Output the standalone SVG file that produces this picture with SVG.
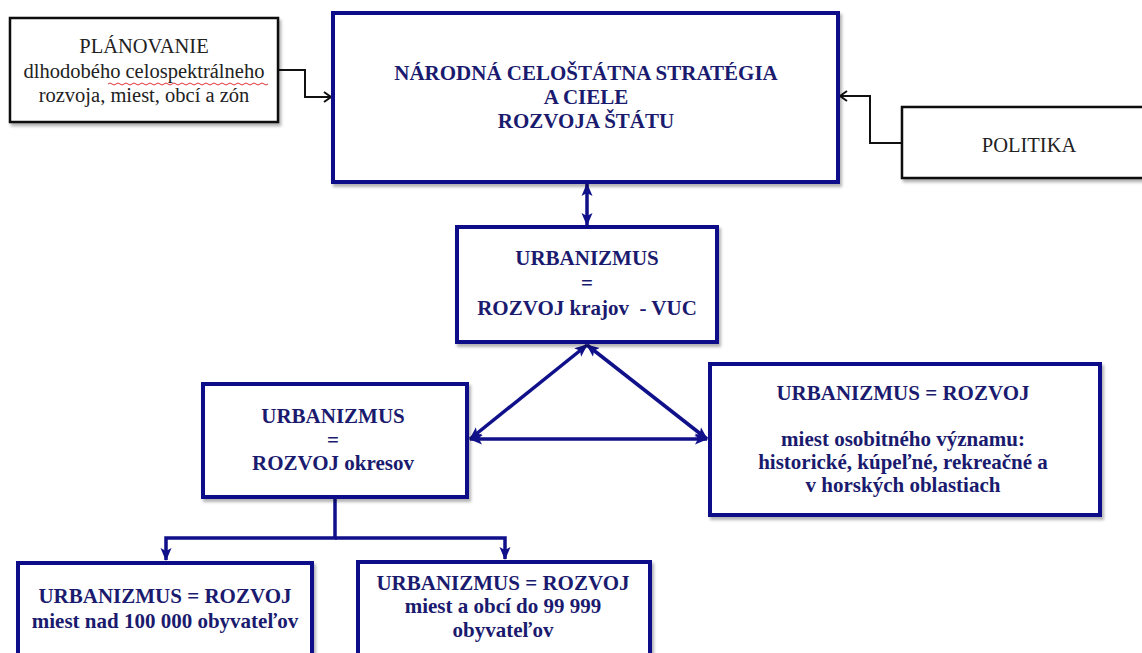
<svg xmlns="http://www.w3.org/2000/svg" width="1142" height="653" viewBox="0 0 1142 653">
<defs>
<filter id="sh" x="-5%" y="-5%" width="115%" height="120%">
<feDropShadow dx="2" dy="3" stdDeviation="1.5" flood-color="#000" flood-opacity="0.3"/>
</filter>
<marker id="ab" markerUnits="userSpaceOnUse" markerWidth="14" markerHeight="12" refX="12" refY="6" orient="auto-start-reverse">
<path d="M0,0.5 L13,6 L0,11.5 L3,6 z" fill="#10108a"/>
</marker>
<marker id="ak" markerUnits="userSpaceOnUse" markerWidth="12" markerHeight="12" refX="10" refY="6" orient="auto">
<path d="M3,1 L10,6 L3,11" fill="none" stroke="#111" stroke-width="2"/>
</marker>
</defs>
<style>
.bb{fill:#fff;stroke:#10108a;stroke-width:4}
.kb{fill:#fff;stroke:#111;stroke-width:2.5}
.bt{font-family:'Liberation Serif','Times New Roman','DejaVu Serif',serif;font-weight:bold;font-size:21px;fill:#1a1a6e;text-anchor:middle}
.kt{font-family:'Liberation Serif','Times New Roman','DejaVu Serif',serif;font-size:20.5px;fill:#222;text-anchor:middle}
.bl{fill:none;stroke:#10108a;stroke-width:3.5}
.kl{fill:none;stroke:#111;stroke-width:2}
</style>
<rect width="1142" height="653" fill="#fff"/>
<g id="connectors">
<path class="kl" d="M278,70 H305 V97 H331" marker-end="url(#ak)"/>
<path class="kl" d="M902,143 H870 V96 H840" marker-end="url(#ak)"/>
<path class="bl" d="M587,184 V225" marker-start="url(#ab)" marker-end="url(#ab)"/>
<path class="bl" d="M587,345 L470,439" marker-start="url(#ab)" marker-end="url(#ab)"/>
<path class="bl" d="M587,345 L707,439" marker-start="url(#ab)" marker-end="url(#ab)"/>
<path class="bl" d="M470,439 H707" marker-start="url(#ab)" marker-end="url(#ab)"/>
<path class="bl" d="M335,497 V538 H166 V560" marker-end="url(#ab)"/>
<path class="bl" d="M335,538 H505 V559" marker-end="url(#ab)"/>
</g>
<g id="planovanie">
<rect class="kb" x="10" y="18" width="268" height="104" filter="url(#sh)"/>
<text class="kt" x="144" y="53">PLÁNOVANIE</text>
<text class="kt" x="144" y="78">dlhodobého celospektrálneho</text>
<text class="kt" x="144" y="102">rozvoja, miest, obcí a zón</text>
<path d="M108,84 q2,-2 4,0 t4,0 t4,0 t4,0 t4,0 t4,0 t4,0 t4,0 t4,0 t4,0 t4,0 t4,0 t4,0 t4,0 t4,0 t4,0 t4,0 t4,0 t4,0 t4,0 t4,0 t4,0 t4,0 t4,0 t4,0 t4,0 t4,0 t4,0 t4,0 t4,0 t4,0 t4,0 t4,0 t4,0 t4,0 t4,0 t4,0 t4,0 t4,0 t4,0" fill="none" stroke="#d33" stroke-width="1"/>
</g>
<g id="strategia">
<rect class="bb" x="333" y="13" width="505" height="169" stroke-width="3.5" filter="url(#sh)"/>
<text class="bt" x="586" y="80">NÁRODNÁ CELOŠTÁTNA STRATÉGIA</text>
<text class="bt" x="586" y="104">A CIELE</text>
<text class="bt" x="586" y="128">ROZVOJA ŠTÁTU</text>
</g>
<g id="politika">
<rect class="kb" x="902" y="107" width="260" height="71" filter="url(#sh)"/>
<text class="kt" x="1029" y="152">POLITIKA</text>
</g>
<g id="kraje">
<rect class="bb" x="457" y="227" width="260" height="115" filter="url(#sh)"/>
<text class="bt" x="587" y="265">URBANIZMUS</text>
<text class="bt" x="587" y="290">=</text>
<text class="bt" x="587" y="315" xml:space="preserve">ROZVOJ krajov  - VUC</text>
</g>
<g id="okresy">
<rect class="bb" x="203" y="384" width="264" height="113" filter="url(#sh)"/>
<text class="bt" x="333" y="423">URBANIZMUS</text>
<text class="bt" x="333" y="447">=</text>
<text class="bt" x="333" y="470">ROZVOJ okresov</text>
</g>
<g id="osobitne">
<rect class="bb" x="710" y="364" width="390" height="151" filter="url(#sh)"/>
<text class="bt" x="903" y="400">URBANIZMUS = ROZVOJ</text>
<text class="bt" x="903" y="446">miest osobitného významu:</text>
<text class="bt" x="903" y="469">historické, kúpeľné, rekreačné a</text>
<text class="bt" x="903" y="492">v horských oblastiach</text>
</g>
<g id="nad100">
<rect class="bb" x="18" y="563" width="294" height="110" filter="url(#sh)"/>
<text class="bt" x="165" y="603">URBANIZMUS = ROZVOJ</text>
<text class="bt" x="165" y="628">miest nad 100 000 obyvateľov</text>
</g>
<g id="do99">
<rect class="bb" x="358" y="562" width="292" height="110" filter="url(#sh)"/>
<text class="bt" x="503" y="590">URBANIZMUS = ROZVOJ</text>
<text class="bt" x="503" y="613">miest a obcí do 99 999</text>
<text class="bt" x="503" y="637">obyvateľov</text>
</g>
</svg>
